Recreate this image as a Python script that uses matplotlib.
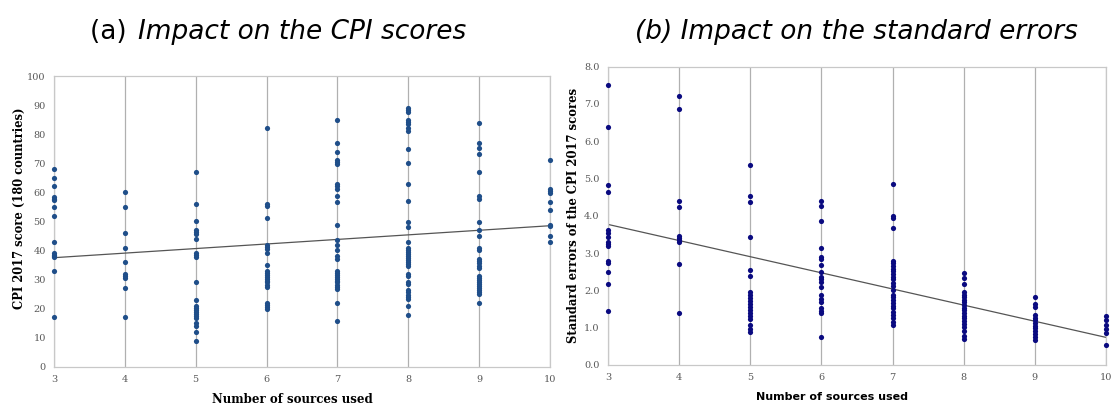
import matplotlib.pyplot as plt
import numpy as np

# CPI 2017 scores, grouped by number of sources used
cpi_scores = {
    3: [68, 65, 62, 58.4, 57.8, 57.3, 55, 52, 43, 39, 38.5, 38, 37.6, 33, 17],
    4: [60, 55, 46, 41, 36, 32, 31.3, 30.6, 27, 17],
    5: [67, 56, 50, 47, 46.3, 45.8, 44, 39, 38.4, 37.8, 29, 23, 21, 20.3,
        19.5, 18.8, 18, 17.4, 16.6, 15, 14, 12, 9],
    6: [82, 56, 55.3, 51, 42, 41.3, 40.6, 39, 35, 33, 32.3, 31.7, 31, 30.3,
        29.6, 29, 28.2, 27.5, 22, 21.3, 20.6, 20],
    7: [85, 77, 74, 71, 70.5, 69.8, 62.7, 62, 61, 58.7, 56.8, 48.9, 43.7,
        41.9, 40, 38, 37, 33, 32.3, 31.7, 31, 30.3, 29.6, 29, 28.2, 27.5,
        26.8, 21.8, 15.8],
    8: [88.9, 88.3, 87.7, 85, 84.3, 83.5, 82, 81.2, 74.9, 70, 62.8, 56.9,
        49.9, 47.9, 43, 41, 40.3, 39.6, 38.9, 38.2, 37.5, 36.8, 36.1, 35.4,
        34.7, 31.9, 31.2, 29.2, 28.4, 26.4, 25.6, 24.8, 24.1, 23.4, 20.9, 17.8],
    9: [84, 77, 75.2, 73, 66.9, 58.8, 57.8, 49.9, 46.9, 44.8, 40.9, 40,
        36.9, 36.2, 35.6, 34.7, 34, 31.2, 30.4, 29.7, 29, 28.3, 27.6, 26.9,
        26.3, 25.6, 24.9, 21.8],
    10: [71.1, 61, 60.4, 59.7, 56.8, 53.8, 48.9, 48.3, 45, 43],
}

# standard errors of the CPI 2017 scores
std_errors = {
    3: [7.52, 6.39, 4.83, 4.65, 3.62, 3.53, 3.44, 3.31, 3.24, 3.19, 2.80,
        2.73, 2.5, 2.17, 1.44],
    4: [7.21, 6.86, 4.40, 4.23, 3.46, 3.40, 3.35, 3.30, 2.72, 1.40],
    5: [5.36, 4.53, 4.36, 3.43, 2.56, 2.40, 1.96, 1.88, 1.80, 1.72, 1.64,
        1.55, 1.47, 1.39, 1.31, 1.23, 1.07, 0.97, 0.89],
    6: [4.41, 4.27, 3.86, 3.13, 2.90, 2.84, 2.67, 2.49, 2.37, 2.30, 2.23,
        2.08, 1.89, 1.76, 1.68, 1.52, 1.46, 1.39, 0.75],
    7: [4.86, 4.0, 3.95, 3.67, 2.80, 2.73, 2.65, 2.58, 2.51, 2.44, 2.37,
        2.30, 2.21, 2.12, 2.01, 1.89, 1.81, 1.73, 1.66, 1.59, 1.52, 1.43,
        1.34, 1.25, 1.16, 1.07],
    8: [2.48, 2.32, 2.17, 1.97, 1.89, 1.82, 1.75, 1.68, 1.61, 1.54, 1.47,
        1.39, 1.32, 1.25, 1.18, 1.11, 1.03, 0.91, 0.79, 0.70],
    9: [1.81, 1.63, 1.56, 1.34, 1.27, 1.20, 1.13, 1.05, 0.98, 0.91, 0.84,
        0.75, 0.68],
    10: [1.31, 1.21, 1.08, 0.97, 0.85, 0.54],
}

# linear trend lines (values at 3 and 10 sources)
trend_x = [3, 10]
trend_cpi = [37.5, 48.5]
trend_se = [3.77, 0.74]

fig = plt.figure(figsize=(11.12, 4.05), dpi=100)
ax1 = fig.add_axes([0.0486, 0.0946, 0.446, 0.7177])
ax2 = fig.add_axes([0.5468, 0.0988, 0.4478, 0.7365])


def draw_panel(ax, data, trend, color, ylim, yticks, yfmt):
    for n, vals in data.items():
        ax.scatter([n] * len(vals), vals, s=14, color=color, zorder=3,
                   clip_on=False, linewidths=0)
    ax.plot(trend_x, trend, color='#555555', lw=0.9, zorder=2)
    ax.set_xlim(3, 10)
    ax.set_ylim(*ylim)
    ax.set_xticks(range(3, 11))
    ax.set_yticks(yticks)
    ax.set_yticklabels([yfmt.format(v) for v in yticks])
    ax.grid(axis='x', color='#b0b0b0', lw=0.9)
    ax.set_axisbelow(True)
    ax.tick_params(length=0, labelsize=7, colors='#595959', pad=6,
                   labelfontfamily='serif')
    for sp in ax.spines.values():
        sp.set_color('#c8c8c8')
        sp.set_linewidth(0.9)


draw_panel(ax1, cpi_scores, trend_cpi, '#1f4e89', (0, 100),
           list(range(0, 101, 10)), '{:d}')
draw_panel(ax2, std_errors, trend_se, '#0a0a80', (0, 8),
           list(np.arange(0, 8.1, 1.0)), '{:.1f}')

ax1.set_xlabel('Number of sources used', family='serif', weight='bold',
               fontsize=8.5)
ax1.xaxis.set_label_coords(0.48, -0.09)
ax1.set_ylabel('CPI 2017 score (180 countries)', family='serif',
               weight='bold', fontsize=8.3)
ax1.yaxis.set_label_coords(-0.056, 0.545)
ax2.set_xlabel('Number of sources used', family='sans-serif', weight='bold',
               fontsize=8)
ax2.xaxis.set_label_coords(0.45, -0.09)
ax2.set_ylabel('Standard errors of the CPI 2017 scores', family='serif',
               weight='bold', fontsize=8.4)
ax2.yaxis.set_label_coords(-0.056, 0.5)

# panel titles
fig.text(0.081, 0.921, '(a) ', fontsize=19, va='center', ha='left')
fig.text(0.124, 0.921, 'Impact on the CPI scores', fontsize=19,
         style='italic', va='center', ha='left')
fig.text(0.770, 0.921, '(b) Impact on the standard errors', fontsize=19,
         style='italic', va='center', ha='center')

fig.savefig('out.png', dpi=100)
